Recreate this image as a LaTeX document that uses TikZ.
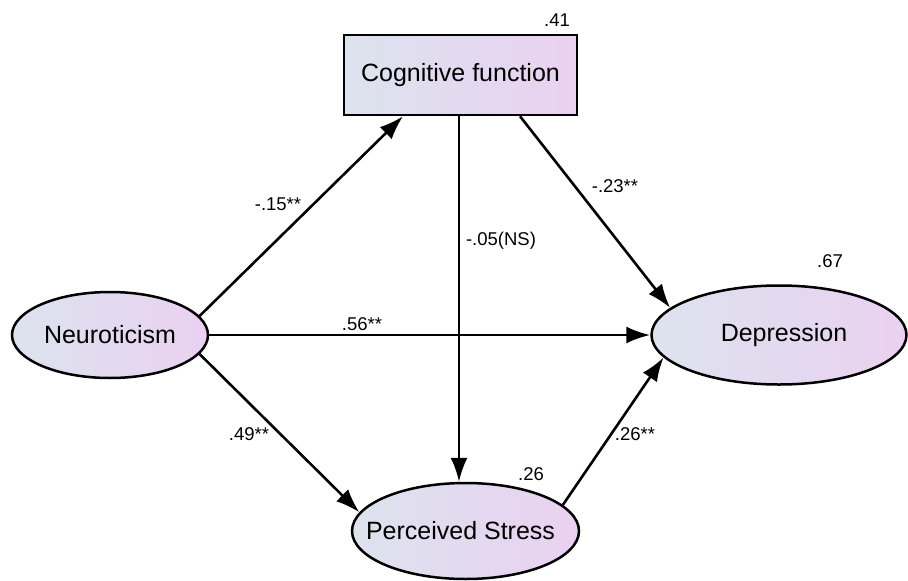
\documentclass[tikz,border=0pt]{standalone}
\usepackage{fontspec}
\setmainfont{Liberation Sans}
\usetikzlibrary{shapes.geometric,arrows.meta}
\definecolor{gradL}{HTML}{DCE3EE}
\definecolor{gradR}{HTML}{EAD1F1}
\tikzset{
  latent/.style={ellipse, draw, line width=2.5pt, inner sep=0pt, left color=gradL, right color=gradR, font=\fontsize{25}{29}\selectfont},
  observed/.style={rectangle, draw, line width=2.5pt, inner sep=0pt, left color=gradL, right color=gradR, font=\fontsize{25}{29}\selectfont},
  arr/.style={line width=2.6pt, -{Latex[length=24pt,width=17pt]}},
  coef/.style={anchor=base, inner sep=0pt, font=\fontsize{18.5}{21}\selectfont}
}
\begin{document}
\begin{tikzpicture}[x=1pt,y=-1pt]
\useasboundingbox[fill=white] (0,0) rectangle (908,581);
\node[observed, minimum width=233pt, minimum height=80pt] (cog) at (460.5,75) {Cognitive function};
\node[latent, minimum width=196pt, minimum height=86pt] (neur) at (110,335) {\makebox[0pt]{Neuroticism}};
\node[latent, minimum width=255pt, minimum height=99pt] (dep) at (779,335) {\makebox[0pt]{\hspace{10pt}Depression}};
\node[latent, minimum width=227pt, minimum height=96pt] (ps) at (465.5,531) {\makebox[0pt]{\hspace{-10pt}Perceived Stress}};

\draw[arr] (neur.12) -- ([xshift=-57.5pt]cog.south);
\draw[arr] (neur.east) -- (dep.west);
\draw[arr] (neur.-12) -- (ps.170.3);
\draw[arr] ([xshift=-1.5pt]cog.south) -- ([xshift=-6.5pt]ps.north);
\draw[arr] ([xshift=59.5pt]cog.south) -- (dep.166.8);
\draw[arr] (ps.15.1) -- (dep.191.2);

\node[coef] (r2cog) at (557,26) {.41};
\node[coef] (r2dep) at (830,267) {.67};
\node[coef] (r2ps) at (531,480) {.26};
\node[coef] (l1) at (278,210) {-.15**};
\node[coef] (l2) at (501,245) {-.05(NS)};
\node[coef] (l3) at (615,192) {-.23**};
\node[coef] (l4) at (362,330) {.56**};
\node[coef] (l5) at (249,440) {.49**};
\node[coef] (l6) at (635,440) {.26**};
\end{tikzpicture}
\end{document}
